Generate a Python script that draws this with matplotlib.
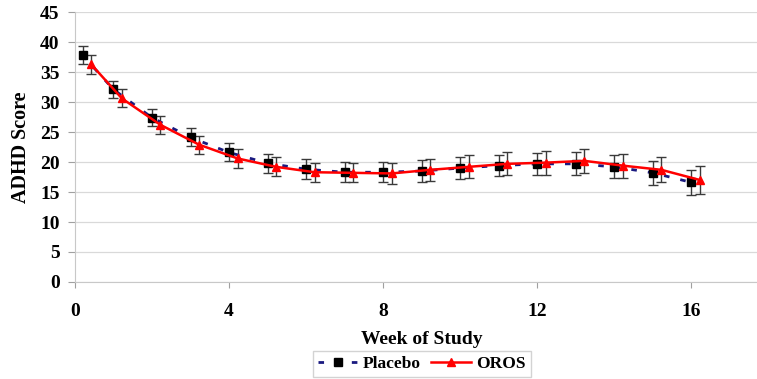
import numpy as np
import matplotlib.pyplot as plt

# ----------------------------
# Data
# ----------------------------

placebo_weeks = [0.2, 1, 2, 3, 4, 5, 6, 7, 8, 9, 10, 11, 12, 13, 14, 15, 16]
placebo_score = [37.8, 32.1, 27.4, 24.1, 21.6, 19.8, 18.8, 18.3, 18.3, 18.5,
                 19.0, 19.4, 19.7, 19.7, 19.2, 18.2, 16.6]
placebo_err = [1.5, 1.4, 1.4, 1.5, 1.5, 1.6, 1.7, 1.7, 1.7, 1.8,
               1.8, 1.8, 1.8, 1.9, 1.9, 2.0, 2.1]

oros_weeks = [0.42, 1.22, 2.22, 3.22, 4.22, 5.22, 6.22, 7.22, 8.22, 9.22,
              10.22, 11.22, 12.22, 13.22, 14.22, 15.22, 16.22]
oros_score = [36.3, 30.6, 26.2, 22.9, 20.6, 19.2, 18.3, 18.2, 18.1, 18.7,
              19.2, 19.7, 19.9, 20.2, 19.4, 18.7, 17.0]
oros_err = [1.6, 1.5, 1.5, 1.5, 1.6, 1.6, 1.6, 1.6, 1.7, 1.8,
            1.9, 1.9, 2.0, 2.0, 2.0, 2.1, 2.3]

x_ticks = [0, 4, 8, 12, 16]
y_ticks = list(range(0, 50, 5))

# ----------------------------
# Plot
# ----------------------------

plt.rcParams['font.family'] = ['Liberation Serif', 'DejaVu Serif']
plt.rcParams['font.weight'] = 'bold'

fig = plt.figure(figsize=(7.57, 3.79), dpi=100)
ax = fig.add_axes([0.099, 0.256, 0.901, 0.712])

ax.errorbar(placebo_weeks, placebo_score, yerr=placebo_err, fmt='none',
            ecolor='#3a3a3a', elinewidth=1.0, capsize=3.5, capthick=1.0, zorder=2)
ax.errorbar(oros_weeks, oros_score, yerr=oros_err, fmt='none',
            ecolor='#3a3a3a', elinewidth=1.0, capsize=3.5, capthick=1.0, zorder=2)

ax.plot(placebo_weeks, placebo_score, linestyle=(0, (2, 4)), color='#1a1a80',
        linewidth=2.0, marker='s', markersize=5.5, markerfacecolor='black',
        markeredgecolor='black', label='Placebo', zorder=3)
ax.plot(oros_weeks, oros_score, linestyle='-', color='red', linewidth=1.8,
        marker='^', markersize=6, markerfacecolor='red', markeredgecolor='red',
        label='OROS', zorder=4)

ax.set_xlim(0, 17.7)
ax.set_ylim(0, 45)
ax.set_xticks(x_ticks)
ax.set_yticks(y_ticks)
ax.tick_params(axis='both', labelsize=14, colors='#a0a0a0', labelcolor='black',
               length=4, width=0.8)
ax.tick_params(axis='y', length=5, pad=6)
ax.tick_params(axis='x', pad=11)
ax.yaxis.grid(True, color='#d9d9d9', linewidth=0.9)
ax.set_axisbelow(True)

for side in ['top', 'right']:
    ax.spines[side].set_visible(False)
for side in ['left', 'bottom']:
    ax.spines[side].set_color('#c8c8c8')

ax.set_ylabel('ADHD Score', fontsize=14.5, fontweight='bold')
ax.yaxis.set_label_coords(-0.064, 0.5)
ax.set_xlabel('Week of Study', fontsize=14, fontweight='bold')
ax.xaxis.set_label_coords(0.509, -0.183)

fig.legend(loc='center', bbox_to_anchor=(0.557, 0.04), ncol=2, fontsize=12.5,
           frameon=True, fancybox=False, edgecolor='#c8c8c8',
           handlelength=2.3, columnspacing=0.55, handletextpad=0.3,
           borderpad=0.3, borderaxespad=0.2)

fig.savefig('out.png', dpi=100)
